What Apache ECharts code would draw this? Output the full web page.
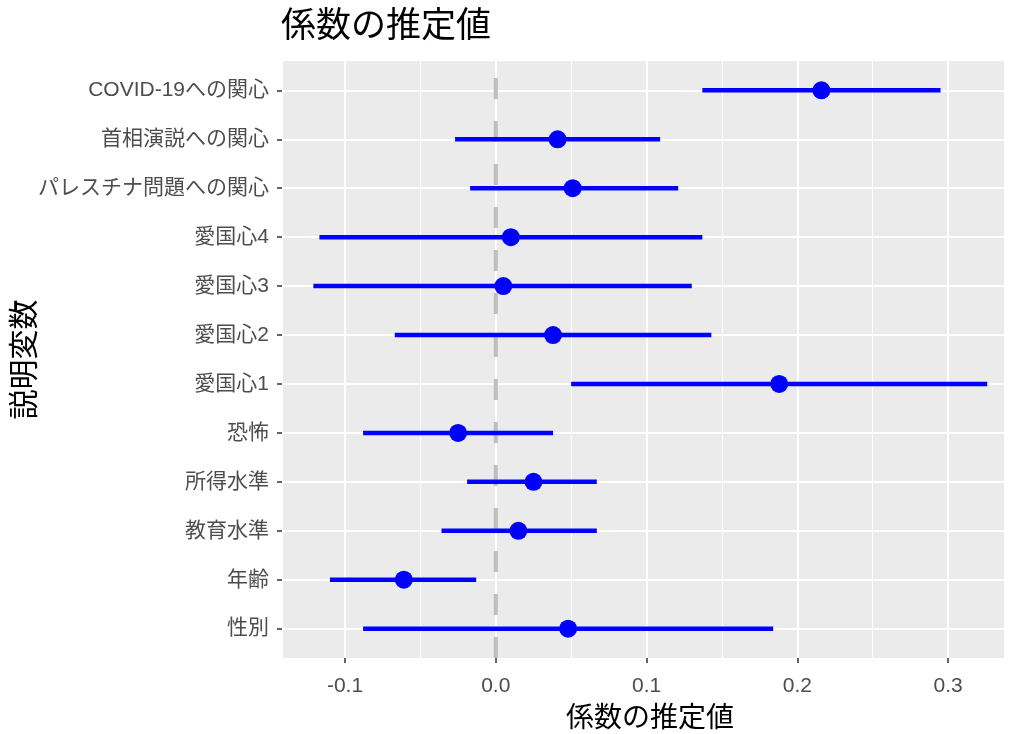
<!DOCTYPE html>
<html>
<head>
<meta charset="utf-8">
<script src="https://cdn.jsdelivr.net/npm/echarts@6/dist/echarts.min.js"></script>
<style>
html,body{margin:0;padding:0;background:#fff;}
#chart{width:1013px;height:734px;}
</style>
</head>
<body>
<div id="chart"></div>
<script>
// Categories top to bottom
const categories = ['COVID-19への関心','首相演説への関心','パレスチナ問題への関心','愛国心4','愛国心3','愛国心2','愛国心1','恐怖','所得水準','教育水準','年齢','性別'];
const estimates = [0.216, 0.041, 0.051, 0.010, 0.005, 0.038, 0.188, -0.025, 0.025, 0.015, -0.061, 0.048];
const lower =     [0.137, -0.027, -0.017, -0.117, -0.121, -0.067, 0.050, -0.088, -0.019, -0.036, -0.110, -0.088];
const upper =     [0.295, 0.109, 0.121, 0.137, 0.130, 0.143, 0.326, 0.038, 0.067, 0.067, -0.013, 0.184];
const xTicks = [-0.1, 0.0, 0.1, 0.2, 0.3];
const refLine = [0];
const xMin = -0.1418, xMax = 0.3371;
const yMin = -0.6, yMax = categories.length - 0.4;

const idx = categories.map((_, i) => i);
const ciData = categories.map((_, i) => [i, lower[i], upper[i]]);
const ptData = categories.map((_, i) => [estimates[i], i]);

const latin = '"Liberation Sans", Arial, "Noto Sans CJK JP", sans-serif';
const cjk = '"Noto Sans CJK JP", "Liberation Sans", sans-serif';

const chart = echarts.init(document.getElementById('chart'), null, {renderer: 'canvas'});
chart.setOption({
  animation: false,
  backgroundColor: '#ffffff',
  title: {
    text: '係数の推定値',
    left: 276, top: 1,
    textStyle: {fontFamily: cjk, fontSize: 35, fontWeight: 'normal', color: '#000000'}
  },
  grid: {left: 282, right: 9, top: 61, bottom: 76, show: true, backgroundColor: '#EBEBEB', borderWidth: 0,
    containLabel: false, outerBoundsMode: 'none'},
  xAxis: [{
    type: 'value', min: xMin, max: xMax, minInterval: 0.1, maxInterval: 0.1,
    name: '係数の推定値', nameLocation: 'middle', nameGap: 44, nameMoveOverlap: false,
    nameTextStyle: {fontFamily: cjk, fontSize: 28, color: '#000000', padding: [0, 0, 0, 14]},
    axisLine: {show: false, onZero: false},
    axisTick: {show: true, length: 5, customValues: xTicks, lineStyle: {color: '#333333', width: 1.5}},
    axisLabel: {customValues: xTicks, margin: 18, fontFamily: latin, fontSize: 21, color: '#4D4D4D',
      formatter: v => v.toFixed(1)},
    splitLine: {show: true, lineStyle: {color: '#FFFFFF', width: 2}}
  }, {
    type: 'value', min: xMin, max: xMax, minInterval: 0.05, maxInterval: 0.05,
    axisLine: {show: false, onZero: false}, axisTick: {show: false}, axisLabel: {show: false},
    splitLine: {show: true, lineStyle: {color: '#FFFFFF', width: 1}}
  }],
  yAxis: {
    type: 'value', inverse: true, min: yMin, max: yMax,
    minInterval: 1, maxInterval: 1,
    name: '説明変数', nameLocation: 'middle', nameGap: 244, nameRotate: 90, nameMoveOverlap: false,
    nameTextStyle: {fontFamily: cjk, fontSize: 30, color: '#000000'},
    axisLine: {show: false, onZero: false},
    axisTick: {show: true, length: 5, customValues: idx, lineStyle: {color: '#333333', width: 1.5}},
    axisLabel: {customValues: idx, margin: 13, fontFamily: latin, fontSize: 21, color: '#4D4D4D',
      formatter: v => categories[Math.round(v)]},
    splitLine: {show: true, lineStyle: {color: '#FFFFFF', width: 2}}
  },
  series: [
    {
      type: 'custom', z: 2, silent: true,
      data: refLine.map(v => [v]),
      encode: {x: 0},
      renderItem: function (params, api) {
        const x = api.value(0);
        const pb = api.coord([x, yMax]);
        const pt = api.coord([x, yMin]);
        return {type: 'line', shape: {x1: pb[0], y1: pb[1], x2: pt[0], y2: pt[1]},
          style: {stroke: '#BEBEBE', lineWidth: 4, lineDash: [21, 22]}};
      }
    },
    {
      type: 'custom', z: 3, silent: true,
      data: ciData,
      encode: {x: [1, 2], y: 0},
      renderItem: function (params, api) {
        const y = api.value(0);
        const p1 = api.coord([api.value(1), y]);
        const p2 = api.coord([api.value(2), y]);
        return {type: 'line', shape: {x1: p1[0], y1: p1[1], x2: p2[0], y2: p2[1]},
          style: {stroke: '#0000FF', lineWidth: 4.5}};
      }
    },
    {
      type: 'scatter', z: 4, silent: true,
      data: ptData, symbol: 'circle', symbolSize: 18,
      itemStyle: {color: '#0000FF', opacity: 1}
    }
  ]
});
</script>
</body>
</html>
